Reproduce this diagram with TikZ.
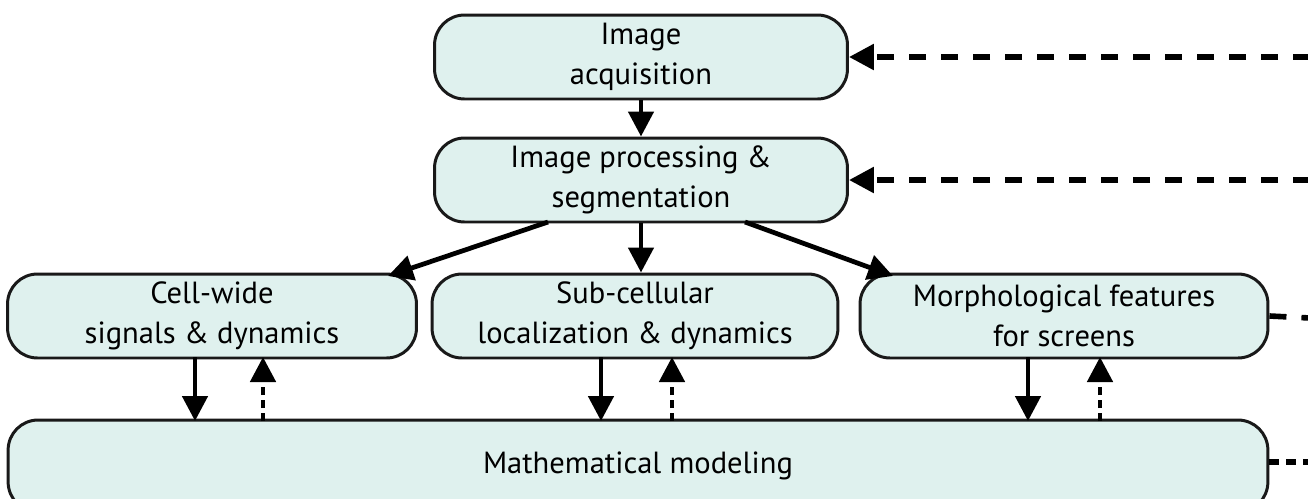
\documentclass[tikz,border=0pt]{standalone}
\usepackage{fontspec}
\setmainfont{PT Sans}
\usetikzlibrary{arrows.meta}
\definecolor{boxfill}{RGB}{223,241,238}
\begin{document}
\begin{tikzpicture}[x=0.02cm,y=-0.02cm,
    stage/.style={draw=black!90,line width=1.7pt,fill=boxfill,rounded corners=0.6cm,
      align=center,inner sep=0pt,minimum height=1.68cm,font=\fontsize{17.4}{23}\selectfont},
    flow/.style={line width=2.7pt,-{Triangle[length=0.5cm,width=0.5cm]}},
    back/.style={line width=3.2pt,dash pattern=on 0.34cm off 0.3cm,-{Triangle[length=0.5cm,width=0.5cm]}},
    up/.style={line width=2.7pt,dash pattern=on 0.16cm off 0.1cm,-{Triangle[length=0.5cm,width=0.5cm]}}]
    \useasboundingbox (0,0) rectangle (1308,498);

    % Acquisition and processing
    \node[stage,minimum width=8.26cm] (acq) at (641,57) {Image\\acquisition};
    \node[stage,minimum width=8.26cm] (proc) at (641,180) {Image processing \&\\segmentation};

    % Three readouts
    \node[stage,minimum width=8.18cm] (cell) at (212,316) {Cell-wide\\signals \& dynamics};
    \node[stage,minimum width=8.12cm] (sub) at (635,316) {Sub-cellular\\localization \& dynamics};
    \node[stage,minimum width=8.16cm] (morph) at (1064,316) {Morphological features\\for screens};

    % Modeling
    \node[stage,minimum width=25.2cm,minimum height=1.84cm] (model) at (638,466) {Mathematical modeling};

    % Forward flow
    \draw[flow] (acq) -- (proc);
    \draw[flow] (proc.south) -- (proc.south |- sub.north);
    \draw[flow] (548,222) -- (388,276);
    \draw[flow] (745,222) -- (893,276);

    % Readouts to and from modeling
    \foreach \a/\b in {195/263,601/672,1028/1100}{
      \draw[flow] (\a,357) -- (\a,421);
      \draw[up] (\b,421) -- (\b,357);
    }

    % Feedback from the right
    \coordinate (fbA) at (1310,57);
    \coordinate (fbB) at (1310,180);
    \coordinate (fbE) at (1310,318);
    \coordinate (fbF) at (1310,462);
    \draw[back] (fbA) -- (acq.east);
    \draw[back] (fbB) -- (proc.east);
    \draw[line width=3.2pt,dash pattern=on 0.34cm off 0.3cm] (morph.east) -- (fbE);
    \draw[line width=3.2pt,dash pattern=on 0.2cm off 0.14cm] (model.east |- fbF) -- (fbF);
\end{tikzpicture}
\end{document}
